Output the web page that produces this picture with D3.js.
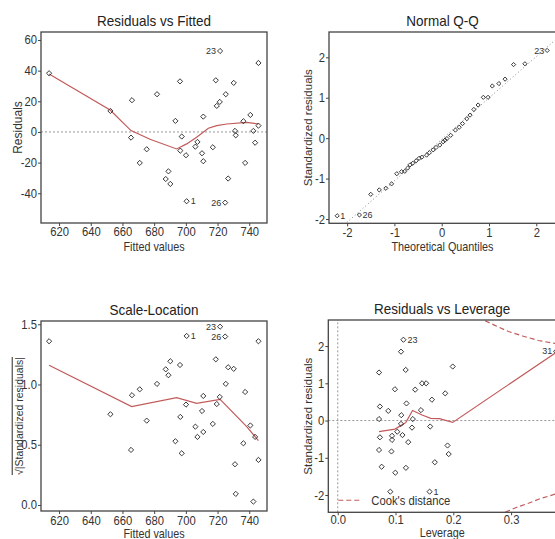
<!DOCTYPE html>
<html>
<head>
<meta charset="utf-8">
<script src="https://cdn.jsdelivr.net/npm/d3@7"></script>
<style>
  body { margin: 0; background: #fff; }
  svg { display: block; font-family: "Liberation Sans", Arial, sans-serif; }
  .tick text { fill: #333; }
</style>
</head>
<body>
<div id="chart"></div>
<script>
// Residuals vs Fitted
const fitted = [613.7, 652.4, 666.0, 665.4, 670.9, 675.3, 681.8, 687.3, 689.0, 690.2, 693.4, 696.3, 697.4, 696.5, 700.1, 700.5, 706.0, 707.3, 711.0, 710.2, 711.0, 717.0, 718.9, 719.5, 721.4, 721.6, 725.2, 726.7, 724.8, 730.2, 731.0, 731.5, 736.3, 737.4, 740.7, 742.6, 743.7, 745.8, 745.8];
const residuals = [38.3, 13.7, 20.7, -3.7, -20.2, -11.3, 24.6, -30.7, -25.7, -33.9, 7.2, 33.0, -3.0, -12.2, -15.2, -45.2, -9.6, -6.5, 10.0, -13.9, -19.1, -10.0, 33.7, 17.0, 19.6, 52.8, 24.6, -30.4, -46.1, 32.0, 0.7, -2.2, 7.0, -20.2, 11.1, 0.7, -7.0, 45.0, 4.1];
const rvfLowessX = [613.7, 652.2, 665.4, 677.4, 694.2, 700.5, 706.8, 714.2, 719.5, 725.8, 738.4, 745.8];
const rvfLowessY = [37.8, 14.3, 0.9, -4.8, -11.1, -7.8, -3.5, 2.4, 4.1, 5.2, 6.3, 5.2];
const fittedTicks = [620, 640, 660, 680, 700, 720, 740];
const residTicks = [-40, -20, 0, 20, 40, 60];

// Scale-Location
const sqrtStdResid = [1.359, 0.753, 0.911, 0.457, 0.960, 0.700, 1.005, 1.126, 1.077, 1.193, 0.529, 1.162, 0.429, 0.731, 0.833, 1.403, 0.650, 0.565, 0.905, 0.780, 0.606, 0.673, 1.209, 0.838, 0.897, 1.480, 1.005, 1.143, 1.398, 1.130, 0.338, 0.092, 0.512, 0.938, 0.660, 0.028, 0.565, 1.359, 0.374];
const slLowessX = [613.7, 665.8, 694.2, 706.8, 721.6, 738.4, 745.8];
const slLowessY = [1.16, 0.817, 0.891, 0.844, 0.877, 0.65, 0.534];
const slTicks = [0, 0.5, 1.0, 1.5];
const fittedLabels = [{i: 15, text: "1", side: "right"}, {i: 25, text: "23", side: "left"}, {i: 28, text: "26", side: "left"}];

// Normal Q-Q
const qqTheoretical = [-2.21, -1.74, -1.50, -1.32, -1.18, -1.06, -0.95, -0.85, -0.78, -0.72, -0.67, -0.61, -0.54, -0.48, -0.42, -0.32, -0.26, -0.18, -0.12, -0.04, 0.03, 0.07, 0.11, 0.19, 0.29, 0.37, 0.44, 0.53, 0.60, 0.68, 0.77, 0.88, 0.98, 1.07, 1.21, 1.34, 1.52, 1.76, 2.23];
const qqSample = [-1.92, -1.90, -1.39, -1.28, -1.24, -1.13, -0.88, -0.83, -0.82, -0.74, -0.66, -0.62, -0.56, -0.50, -0.47, -0.42, -0.36, -0.29, -0.23, -0.17, -0.09, -0.05, -0.01, 0.07, 0.20, 0.27, 0.36, 0.48, 0.57, 0.71, 0.82, 1.01, 1.01, 1.29, 1.35, 1.46, 1.82, 1.84, 2.17];
const qqLineX = [-2.45, 2.45];
const qqLineY = [-2.54, 2.48];
const qqTicks = [-2, -1, 0, 1, 2];
const qqLabels = [{i: 0, text: "1", side: "right"}, {i: 1, text: "26", side: "right"}, {i: 38, text: "23", side: "left"}];

// Residuals vs Leverage
const leverage = [0.1137, 0.1095, 0.199, 0.0715, 0.1176, 0.146, 0.153, 0.099, 0.134, 0.186, 0.163, 0.073, 0.119, 0.0875, 0.144, 0.110, 0.0715, 0.13, 0.1095, 0.1285, 0.160, 0.103, 0.094, 0.094, 0.112, 0.073, 0.122, 0.0715, 0.093, 0.190, 0.192, 0.168, 0.076, 0.118, 0.0997, 0.091, 0.159, 0.378];
const levStdResid = [2.17, 1.85, 1.45, 1.29, 1.36, 1.00, 1.00, 0.84, 0.83, 0.73, 0.56, 0.376, 0.46, 0.26, 0.28, 0.144, 0.04, 0.04, -0.09, -0.19, -0.16, -0.30, -0.41, -0.52, -0.39, -0.45, -0.58, -0.79, -0.83, -0.67, -0.90, -1.12, -1.24, -1.27, -1.40, -1.91, -1.91, 1.86];
const levLowessX = [0.0715, 0.099, 0.112, 0.118, 0.1295, 0.146, 0.161, 0.176, 0.199, 0.378];
const levLowessY = [-0.30, -0.23, -0.11, -0.05, 0.27, 0.15, 0.06, 0.05, -0.05, 1.83];
const cookUpperX = [0.255, 0.27, 0.2954, 0.32, 0.347, 0.38];
const cookUpperY = [2.68, 2.57, 2.39, 2.27, 2.15, 2.06];
const cookLowerX = [0.29, 0.31, 0.33, 0.35, 0.38];
const cookLowerY = [-2.46, -2.33, -2.22, -2.10, -1.96];
const levTicks = [0, 0.1, 0.2, 0.3];
const levLabels = [{i: 0, text: "23", side: "right"}, {i: 37, text: "31", side: "left"}, {i: 36, text: "1", side: "right"}];

const red = "#c25a5a";
const squeeze = 0.9;   // the original text is a little narrow
const svg = d3.select("#chart").append("svg").attr("width", 555).attr("height", 539);

function narrowText(parent, x, y, size, txt, anchor) {
    return parent.append("text")
        .attr("transform", `translate(${x},${y}) scale(${squeeze},1)`)
        .attr("text-anchor", anchor || "middle")
        .attr("font-size", size).attr("fill", "#333")
        .text(txt);
}

let clipId = 0;
function makePanel(o) {
    const x = d3.scaleLinear().domain(o.xDomain).range([o.left, o.right]);
    const y = d3.scaleLinear().domain(o.yDomain).range([o.bottom, o.top]);
    const g = svg.append("g");

    const id = "clip" + (clipId++);
    g.append("clipPath").attr("id", id).append("rect")
        .attr("x", o.left).attr("y", o.top)
        .attr("width", o.right - o.left).attr("height", o.bottom - o.top);
    const inner = g.append("g").attr("clip-path", `url(#${id})`);

    const xa = g.append("g").attr("transform", `translate(0,${o.bottom})`)
        .call(d3.axisBottom(x).tickValues(o.xTicks).tickFormat(o.xFmt).tickSize(3).tickPadding(o.xPad));
    const ya = g.append("g").attr("transform", `translate(${o.left},0)`)
        .call(d3.axisLeft(y).tickValues(o.yTicks).tickFormat(o.yFmt).tickSize(3).tickPadding(1.5));
    [xa, ya].forEach(a => {
        a.select(".domain").remove();
        a.selectAll(".tick line").attr("stroke", "#444");
        a.selectAll(".tick text").attr("font-size", 12.5).attr("font-family", null)
            .attr("transform", `scale(${squeeze},1)`);
    });

    g.append("rect")
        .attr("x", o.left).attr("y", o.top)
        .attr("width", o.right - o.left).attr("height", o.bottom - o.top)
        .attr("fill", "none").attr("stroke", "#444").attr("stroke-width", 1.3);

    narrowText(g, (o.left + o.right) / 2, o.top - 6, 15, o.title).attr("fill", "#222");
    narrowText(g, (o.left + o.right) / 2, o.bottom + o.xLabelOff, 12, o.xLabel);

    const yl = g.append("text")
        .attr("transform", `translate(${o.yLabelX},${(o.top + o.bottom) / 2}) rotate(-90)`)
        .attr("dy", "0.35em")
        .attr("text-anchor", "middle").attr("font-size", o.yLabelSize).attr("fill", "#333")
        .text(o.yLabel);
    if (o.overline) yl.style("text-decoration", "overline");

    return {x, y, g, inner};
}

const intFmt = d => String(d);
const oneFmt = d => d.toFixed(1);

function diamond(r) {
    return `M0,${-r}L${r},0L0,${r}L${-r},0Z`;
}

function drawPoints(p, xs, ys, r) {
    p.inner.append("g").selectAll("path").data(xs).join("path")
        .attr("transform", (d, i) => `translate(${p.x(d)},${p.y(ys[i])})`)
        .attr("d", diamond(r))
        .attr("fill", "none").attr("stroke", "#222").attr("stroke-width", 0.9);
}

function drawLine(p, xs, ys, color, dash, width) {
    const line = d3.line().x(d => p.x(d[0])).y(d => p.y(d[1]));
    p.inner.append("path")
        .datum(xs.map((d, i) => [d, ys[i]]))
        .attr("d", line)
        .attr("fill", "none").attr("stroke", color)
        .attr("stroke-width", width || 1.2)
        .attr("stroke-dasharray", dash || null);
}

function drawLabels(p, xs, ys, labels, off) {
    p.g.append("g").selectAll("text").data(labels).join("text")
        .attr("x", d => p.x(xs[d.i]) + (d.side === "right" ? off : -off))
        .attr("y", d => p.y(ys[d.i]))
        .attr("dy", "0.35em")
        .attr("text-anchor", d => d.side === "right" ? "start" : "end")
        .attr("font-size", 9).attr("fill", "#333")
        .text(d => d.text);
}

// panel 1
const p1 = makePanel({
    left: 41, top: 32, right: 267, bottom: 223,
    xDomain: [608.6, 751.2], yDomain: [-59.4, 65.2],
    xTicks: fittedTicks, yTicks: residTicks, xFmt: intFmt, yFmt: intFmt, xPad: 1.5, xLabelOff: 27.5,
    title: "Residuals vs Fitted", xLabel: "Fitted values", yLabel: "Residuals", yLabelX: 18, yLabelSize: 12
});
p1.inner.append("line")
    .attr("x1", p1.x.range()[0]).attr("x2", p1.x.range()[1])
    .attr("y1", p1.y(0)).attr("y2", p1.y(0))
    .attr("stroke", "#999").attr("stroke-dasharray", "2,2");
drawLine(p1, rvfLowessX, rvfLowessY, red);
drawPoints(p1, fitted, residuals, 2.6);
drawLabels(p1, fitted, residuals, fittedLabels, 4);

// panel 2
const p2 = makePanel({
    left: 329, top: 32, right: 556, bottom: 223.3,
    xDomain: [-2.383, 2.417], yDomain: [-2.106, 2.626],
    xTicks: qqTicks, yTicks: qqTicks, xFmt: intFmt, yFmt: intFmt, xPad: 1.5, xLabelOff: 27.5,
    title: "Normal Q-Q", xLabel: "Theoretical Quantiles", yLabel: "Standardized residuals", yLabelX: 308.3, yLabelSize: 11.5
});
drawLine(p2, qqLineX, qqLineY, "#888", "1,2.5", 1);
drawPoints(p2, qqTheoretical, qqSample, 2.1);
drawLabels(p2, qqTheoretical, qqSample, qqLabels, 3);

// panel 3
const p3 = makePanel({
    left: 41, top: 321, right: 267, bottom: 511,
    xDomain: [608.6, 751.2], yDomain: [-0.05, 1.527],
    xTicks: fittedTicks, yTicks: slTicks, xFmt: intFmt, yFmt: oneFmt, xPad: 2.5, xLabelOff: 27,
    title: "Scale-Location", xLabel: "Fitted values", yLabel: "\u221A|Standardized residuals|", yLabelX: 19, yLabelSize: 10.5, overline: true
});
drawLine(p3, slLowessX, slLowessY, red);
drawPoints(p3, fitted, sqrtStdResid, 2.6);
drawLabels(p3, fitted, sqrtStdResid, fittedLabels, 4);

// panel 4
const p4 = makePanel({
    left: 328.3, top: 320, right: 556, bottom: 512.3,
    xDomain: [-0.0163, 0.3777], yDomain: [-2.464, 2.70],
    xTicks: levTicks, yTicks: qqTicks, xFmt: oneFmt, yFmt: intFmt, xPad: 0, xLabelOff: 24.5,
    title: "Residuals vs Leverage", xLabel: "Leverage", yLabel: "Standardized residuals", yLabelX: 308.3, yLabelSize: 11.5
});
p4.inner.append("line")
    .attr("x1", p4.x.range()[0]).attr("x2", p4.x.range()[1])
    .attr("y1", p4.y(0)).attr("y2", p4.y(0))
    .attr("stroke", "#999").attr("stroke-dasharray", "2,2");
p4.inner.append("line")
    .attr("x1", p4.x(0)).attr("x2", p4.x(0))
    .attr("y1", p4.y.range()[0]).attr("y2", p4.y.range()[1])
    .attr("stroke", "#999").attr("stroke-dasharray", "2,2");
drawLine(p4, levLowessX, levLowessY, red);
drawLine(p4, cookUpperX, cookUpperY, red, "5,3");
drawLine(p4, cookLowerX, cookLowerY, red, "5,3");
drawPoints(p4, leverage, levStdResid, 2.6);
drawLabels(p4, leverage, levStdResid, levLabels, 4);

// legend
const lg = p4.g.append("g").attr("transform", `translate(${p4.x.range()[0] + 10},${p4.y(-2.14)})`);
lg.append("line").attr("x1", 0).attr("x2", 22)
    .attr("stroke", red).attr("stroke-width", 1.2).attr("stroke-dasharray", "5,3");
narrowText(lg, 33, 0, 12.5, "Cook's distance", "start").attr("dy", "0.35em");
</script>
</body>
</html>
